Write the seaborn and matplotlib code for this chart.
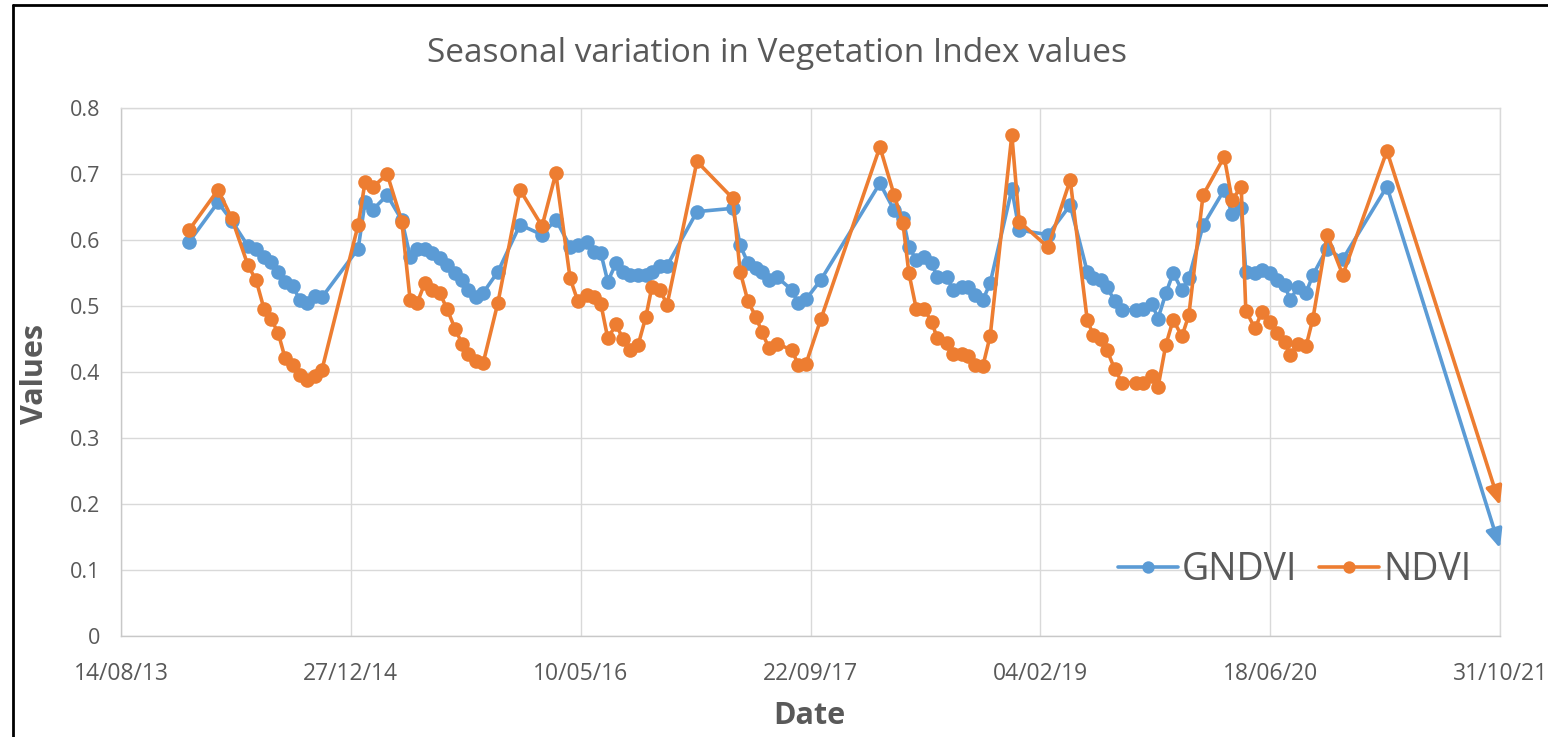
import numpy as np
import pandas as pd
import seaborn as sns
from matplotlib import pyplot as plt
from matplotlib.lines import Line2D
import matplotlib.dates as mdates

# ngày chụp ảnh
dates = [
    "2014-01-09", "2014-03-13", "2014-04-12", "2014-05-17", "2014-06-04", "2014-06-21", "2014-07-06",
    "2014-07-22", "2014-08-06", "2014-08-23", "2014-09-07", "2014-09-23", "2014-10-10", "2014-10-25",
    "2015-01-12", "2015-01-27", "2015-02-13", "2015-03-16", "2015-04-17", "2015-05-05", "2015-05-20",
    "2015-06-06", "2015-06-22", "2015-07-09", "2015-07-24", "2015-08-11", "2015-08-26", "2015-09-08",
    "2015-09-25", "2015-10-11", "2015-11-12", "2015-12-30",
    "2016-02-16", "2016-03-17", "2016-04-17", "2016-05-04", "2016-05-24", "2016-06-08", "2016-06-23",
    "2016-07-08", "2016-07-26", "2016-08-10", "2016-08-25", "2016-09-12", "2016-09-29", "2016-10-12",
    "2016-10-30", "2016-11-14",
    "2017-01-18", "2017-04-06", "2017-04-22", "2017-05-09", "2017-05-26", "2017-06-08", "2017-06-24",
    "2017-07-11", "2017-08-13", "2017-08-26", "2017-09-12", "2017-10-15",
    "2018-02-20", "2018-03-23", "2018-04-11", "2018-04-24", "2018-05-10", "2018-05-27", "2018-06-13",
    "2018-06-24", "2018-07-16", "2018-07-29", "2018-08-18", "2018-08-31", "2018-09-15", "2018-10-02",
    "2018-10-18", "2018-12-04", "2018-12-20",
    "2019-02-21", "2019-04-10", "2019-05-17", "2019-05-30", "2019-06-16", "2019-06-29", "2019-07-16",
    "2019-08-01", "2019-08-31", "2019-09-15", "2019-10-05", "2019-10-18", "2019-11-04", "2019-11-20",
    "2019-12-09", "2019-12-24",
    "2020-01-24", "2020-03-10", "2020-03-27", "2020-04-16", "2020-04-26", "2020-05-16", "2020-05-31",
    "2020-06-18", "2020-07-03", "2020-07-20", "2020-07-31", "2020-08-18", "2020-09-04", "2020-09-19",
    "2020-10-20", "2020-11-23",
    "2021-02-27",
]

gndvi = [
    0.597, 0.657, 0.629, 0.591, 0.587, 0.575, 0.567, 0.552, 0.537, 0.530, 0.509, 0.504, 0.515, 0.513,
    0.587, 0.658, 0.646, 0.668, 0.630, 0.575, 0.587, 0.587, 0.580, 0.572, 0.562, 0.550, 0.539, 0.524,
    0.514, 0.520, 0.552, 0.623,
    0.608, 0.631, 0.590, 0.592, 0.597, 0.582, 0.580, 0.537, 0.565, 0.552, 0.547, 0.547, 0.547, 0.552,
    0.560, 0.561,
    0.643, 0.648, 0.592, 0.565, 0.557, 0.552, 0.539, 0.544, 0.524, 0.504, 0.510, 0.540,
    0.686, 0.645, 0.633, 0.590, 0.570, 0.575, 0.565, 0.544, 0.544, 0.524, 0.529, 0.529, 0.517, 0.509,
    0.535, 0.677, 0.615,
    0.608, 0.653, 0.552, 0.542, 0.539, 0.529, 0.507, 0.494, 0.494, 0.495, 0.503, 0.481, 0.519, 0.550,
    0.524, 0.542,
    0.622, 0.676, 0.640, 0.648, 0.552, 0.550, 0.555, 0.550, 0.539, 0.532, 0.509, 0.529, 0.520, 0.547,
    0.587, 0.571,
    0.681,
]

ndvi = [
    0.615, 0.676, 0.633, 0.562, 0.539, 0.496, 0.481, 0.459, 0.421, 0.411, 0.395, 0.388, 0.394, 0.403,
    0.623, 0.688, 0.680, 0.700, 0.628, 0.509, 0.504, 0.535, 0.524, 0.519, 0.496, 0.465, 0.443, 0.428,
    0.416, 0.414, 0.505, 0.676,
    0.621, 0.701, 0.542, 0.507, 0.516, 0.514, 0.503, 0.451, 0.472, 0.450, 0.433, 0.441, 0.484, 0.529,
    0.524, 0.502,
    0.719, 0.663, 0.552, 0.507, 0.484, 0.461, 0.436, 0.443, 0.433, 0.411, 0.412, 0.481,
    0.741, 0.668, 0.626, 0.550, 0.496, 0.495, 0.476, 0.452, 0.444, 0.427, 0.428, 0.424, 0.411, 0.409,
    0.455, 0.759, 0.628,
    0.589, 0.691, 0.479, 0.456, 0.450, 0.433, 0.404, 0.384, 0.384, 0.384, 0.394, 0.377, 0.441, 0.479,
    0.454, 0.486,
    0.668, 0.726, 0.661, 0.680, 0.493, 0.466, 0.491, 0.476, 0.459, 0.446, 0.426, 0.443, 0.439, 0.481,
    0.608, 0.547,
    0.735,
]

# điểm cuối (mũi tên)
end_date = "2021-10-31"
end_gndvi = 0.133
end_ndvi = 0.198

x_start = "2013-08-14"
x_ticklabels = ["14/08/13", "27/12/14", "10/05/16", "22/09/17", "04/02/19", "18/06/20", "31/10/21"]
y_ticks = [0, 0.1, 0.2, 0.3, 0.4, 0.5, 0.6, 0.7, 0.8]
y_ticklabels = ["0", "0.1", "0.2", "0.3", "0.4", "0.5", "0.6", "0.7", "0.8"]

colors = {"GNDVI": "#5B9BD5", "NDVI": "#ED7D31"}
text_color = "#595959"
grid_color = "#D9D9D9"

sns.set_theme(style="whitegrid")
plt.rcParams["font.family"] = ["Open Sans", "DejaVu Sans"]

df = pd.DataFrame({
    "Date": pd.to_datetime(dates * 2),
    "Value": gndvi + ndvi,
    "Index": ["GNDVI"] * len(gndvi) + ["NDVI"] * len(ndvi),
})

fig = plt.figure(figsize=(15.48, 7.37), dpi=100)
ax = fig.add_axes([121 / 1548, 1 - 636 / 737, 1379 / 1548, 528 / 737])

sns.lineplot(data=df, x="Date", y="Value", hue="Index", palette=colors,
             marker="o", markersize=10.5, markeredgewidth=0, linewidth=2.6, ax=ax)

# mũi tên đoạn cuối
for name, vals, end_v in [("GNDVI", gndvi, end_gndvi), ("NDVI", ndvi, end_ndvi)]:
    ax.annotate("", xy=(pd.Timestamp(end_date), end_v),
                xytext=(pd.Timestamp(dates[-1]), vals[-1]),
                arrowprops=dict(arrowstyle="-|>,head_length=0.8,head_width=0.35",
                                color=colors[name], lw=2.6,
                                mutation_scale=14, shrinkA=4, shrinkB=0))

x0 = pd.Timestamp(x_start)
xticks = [x0 + pd.Timedelta(days=500 * i) for i in range(len(x_ticklabels))]
ax.set_xlim(xticks[0], xticks[-1])
ax.set_xticks(xticks)
ax.set_xticklabels(x_ticklabels)
ax.set_ylim(0, 0.8)
ax.set_yticks(y_ticks)
ax.set_yticklabels(y_ticklabels)

ax.grid(True, color=grid_color, linewidth=1.0)
for s in ax.spines.values():
    s.set_color(grid_color)
    s.set_linewidth(1.0)
ax.spines["bottom"].set_color("#C8C8C8")
ax.spines["left"].set_color("#C8C8C8")

ax.tick_params(axis="both", length=0, labelcolor=text_color)
ax.tick_params(axis="x", pad=19, labelsize=16.5)
ax.tick_params(axis="y", pad=15, labelsize=15.5)

ax.set_xlabel("Date", fontsize=22, fontweight="bold", color=text_color, va="center")
ax.xaxis.set_label_coords((809 - 121) / 1379, (636 - 716) / 528)
ax.set_ylabel("Values", fontsize=22, fontweight="bold", color=text_color, va="center")
ax.yaxis.set_label_coords((35 - 121) / 1379, (636 - 374) / 528)

fig.text(777 / 1548, 1 - 53 / 737, "Seasonal variation in Vegetation Index values",
         fontsize=24, color=text_color, ha="center", va="center")

leg = ax.legend(loc="center", bbox_to_anchor=(0.851, 0.125), ncol=2, frameon=False,
                fontsize=27, handlelength=1.6, handletextpad=0.1, columnspacing=0.6,
                markerscale=0.85)
for t in leg.get_texts():
    t.set_color(text_color)

# khung đen bên ngoài
bx = 13 / 1548
by = 1 - 5 / 737
fig.add_artist(Line2D([bx, bx], [0, by], color="black", lw=2, transform=fig.transFigure))
fig.add_artist(Line2D([bx, 1], [by, by], color="black", lw=2, transform=fig.transFigure))

fig.savefig("out.png", dpi=100)
plt.close(fig)
